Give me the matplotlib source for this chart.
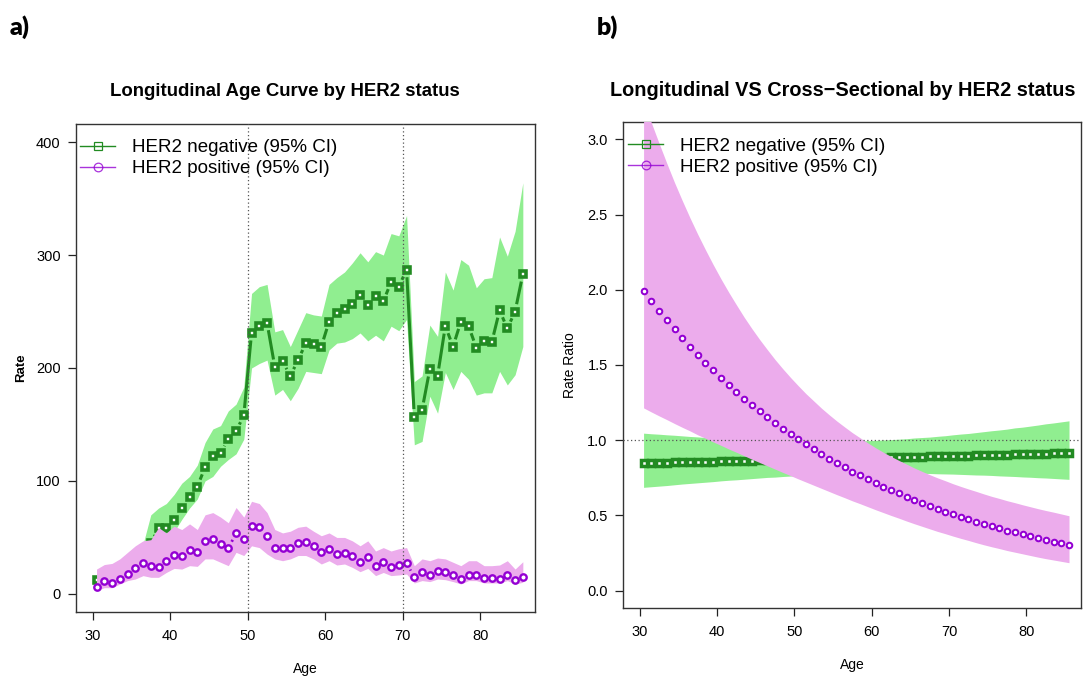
import numpy as np
import matplotlib
matplotlib.use("Agg")
import matplotlib.pyplot as plt
from matplotlib.lines import Line2D
from matplotlib.collections import LineCollection

plt.rcParams['font.family'] = ['Liberation Sans', 'DejaVu Sans']

# ---------------- data ----------------
ages = [30.5, 31.5, 32.5, 33.5, 34.5, 35.5, 36.5, 37.5, 38.5, 39.5,
        40.5, 41.5, 42.5, 43.5, 44.5, 45.5, 46.5, 47.5, 48.5, 49.5,
        50.5, 51.5, 52.5, 53.5, 54.5, 55.5, 56.5, 57.5, 58.5, 59.5,
        60.5, 61.5, 62.5, 63.5, 64.5, 65.5, 66.5, 67.5, 68.5, 69.5,
        70.5, 71.5, 72.5, 73.5, 74.5, 75.5, 76.5, 77.5, 78.5, 79.5,
        80.5, 81.5, 82.5, 83.5, 84.5, 85.5]
nan = float('nan')

# panel a: rates
neg_rate = [12, nan, nan, nan, nan, nan, nan, 45, 58, 58,
            65, 76, 86, 95, 112, 122, 125, 137, 144, 158,
            231, 237, 240, 201, 206, 193, 207, 222, 221, 219,
            241, 249, 252, 257, 265, 256, 264, 259, 276, 272,
            287, 157, 163, 199, 193, 237, 219, 241, 237, 218,
            224, 223, 251, 235, 250, 283]
neg_upper = [18, 20, 24, 28, 33, 38, 44, 70, 76, 80,
             88, 98, 104, 114, 134, 146, 149, 162, 168, 183,
             266, 272, 274, 232, 234, 219, 234, 249, 247, 246,
             274, 280, 285, 293, 302, 294, 303, 300, 319, 317,
             335, 188, 193, 238, 228, 285, 269, 296, 291, 271,
             279, 280, 316, 299, 321, 364]
neg_lower = [5, 7, 9, 12, 15, 18, 22, 32, 41, 48,
             55, 66, 76, 84, 100, 104, 113, 119, 124, 137,
             200, 204, 207, 176, 181, 171, 182, 197, 196, 195,
             216, 222, 223, 226, 231, 224, 229, 224, 237, 233,
             243, 132, 135, 175, 160, 196, 181, 197, 190, 176,
             178, 178, 197, 185, 194, 219]
pos_rate = [6.5, 11.8, 9.7, 13.2, 17.4, 22.6, 27.0, 25.0, 23.5, 29.4,
            34.4, 33.2, 38.8, 37.4, 46.5, 49.0, 43.8, 40.3, 53.8, 48.5,
            59.7, 59.0, 51.5, 40.9, 40.3, 40.9, 44.7, 46.2, 42.6, 36.8,
            39.7, 35.3, 36.2, 33.5, 28.2, 32.9, 24.7, 28.0, 24.1, 25.6,
            27.4, 14.7, 19.1, 17.0, 20.0, 19.1, 17.0, 13.2, 17.0, 17.0,
            14.1, 14.1, 13.2, 16.8, 12.4, 14.7]
pos_upper = [22, 26, 27, 31, 36.8, 42.6, 47, 48, 58.8, 54,
             60, 57, 62, 57, 70, 72, 68, 63, 76.5, 68,
             82, 80, 72, 57, 54, 55.5, 59, 60, 55.5, 51.5,
             54, 50, 50, 47, 42.6, 47, 38, 41, 38, 40,
             41, 25, 31, 29.4, 31.8, 31, 28, 25, 29.4, 29.4,
             25, 25, 25.6, 29.4, 22, 28.5]
pos_lower = [3, 5.5, 5.5, 8.8, 11.8, 13.2, 16.2, 14.7, 14.7, 19,
             22.6, 22, 25, 24.4, 31, 31, 28, 25, 36.8, 34,
             42.6, 41, 35.3, 31, 29.4, 31, 34, 34, 31, 26.5,
             29.4, 25.6, 26.5, 23.5, 19.7, 22.6, 16.2, 19, 16.2, 16.8,
             17.6, 9.7, 11.8, 10.9, 13.2, 12.6, 10.9, 8.8, 11.8, 11.8,
             9.7, 9.7, 9.7, 11.8, 8.8, 10.3]

# panel b: rate ratios
neg_rr = [0.848, 0.849, 0.850, 0.851, 0.853, 0.854, 0.855, 0.856, 0.857, 0.858,
          0.860, 0.861, 0.862, 0.863, 0.864, 0.866, 0.867, 0.868, 0.869, 0.870,
          0.872, 0.873, 0.874, 0.875, 0.876, 0.877, 0.879, 0.880, 0.881, 0.882,
          0.883, 0.885, 0.886, 0.887, 0.888, 0.890, 0.891, 0.892, 0.893, 0.894,
          0.896, 0.897, 0.898, 0.899, 0.901, 0.902, 0.903, 0.904, 0.906, 0.907,
          0.908, 0.909, 0.911, 0.912, 0.913, 0.914]
neg_rr_upper = [1.047, 1.043, 1.040, 1.036, 1.033, 1.029, 1.025, 1.022, 1.018, 1.015,
                1.013, 1.010, 1.008, 1.005, 1.002, 1.001, 0.999, 0.997, 0.995, 0.994,
                0.994, 0.993, 0.992, 0.991, 0.992, 0.992, 0.993, 0.994, 0.996, 0.997,
                0.999, 1.002, 1.004, 1.007, 1.010, 1.015, 1.018, 1.021, 1.026, 1.030,
                1.036, 1.041, 1.045, 1.051, 1.057, 1.063, 1.068, 1.074, 1.082, 1.087,
                1.094, 1.101, 1.109, 1.115, 1.122, 1.129]
neg_rr_lower = [0.687, 0.691, 0.695, 0.699, 0.704, 0.709, 0.713, 0.717, 0.721, 0.725,
                0.730, 0.734, 0.737, 0.741, 0.745, 0.749, 0.753, 0.755, 0.759, 0.762,
                0.765, 0.768, 0.770, 0.772, 0.774, 0.775, 0.778, 0.779, 0.780, 0.781,
                0.781, 0.782, 0.782, 0.781, 0.781, 0.781, 0.780, 0.779, 0.777, 0.776,
                0.775, 0.773, 0.771, 0.769, 0.768, 0.766, 0.763, 0.761, 0.759, 0.756,
                0.754, 0.751, 0.749, 0.746, 0.743, 0.740]
pos_rr = [1.990, 1.923, 1.859, 1.797, 1.736, 1.678, 1.622, 1.567, 1.515, 1.464,
          1.415, 1.367, 1.322, 1.277, 1.234, 1.193, 1.153, 1.114, 1.077, 1.041,
          1.006, 0.972, 0.940, 0.908, 0.878, 0.848, 0.820, 0.792, 0.766, 0.740,
          0.715, 0.691, 0.668, 0.646, 0.624, 0.603, 0.583, 0.563, 0.544, 0.526,
          0.508, 0.491, 0.475, 0.459, 0.443, 0.428, 0.414, 0.400, 0.387, 0.374,
          0.361, 0.349, 0.337, 0.326, 0.315, 0.304]
pos_rr_upper = [3.260, 3.111, 2.974, 2.841, 2.713, 2.593, 2.478, 2.369, 2.266, 2.167,
                2.073, 1.984, 1.900, 1.818, 1.742, 1.670, 1.602, 1.536, 1.475, 1.417,
                1.362, 1.309, 1.261, 1.213, 1.169, 1.127, 1.088, 1.050, 1.016, 0.982,
                0.950, 0.920, 0.892, 0.866, 0.841, 0.816, 0.793, 0.771, 0.750, 0.731,
                0.711, 0.693, 0.676, 0.660, 0.643, 0.627, 0.613, 0.598, 0.585, 0.571,
                0.558, 0.545, 0.533, 0.522, 0.510, 0.498]
pos_rr_lower = [1.215, 1.188, 1.162, 1.137, 1.111, 1.086, 1.062, 1.036, 1.013, 0.989,
                0.966, 0.942, 0.920, 0.897, 0.874, 0.852, 0.830, 0.808, 0.786, 0.765,
                0.743, 0.722, 0.701, 0.680, 0.659, 0.638, 0.618, 0.597, 0.578, 0.558,
                0.538, 0.519, 0.500, 0.482, 0.463, 0.445, 0.428, 0.411, 0.394, 0.379,
                0.363, 0.348, 0.334, 0.319, 0.305, 0.292, 0.280, 0.267, 0.256, 0.245,
                0.234, 0.223, 0.213, 0.204, 0.195, 0.186]

x_ticks = [30, 40, 50, 60, 70, 80]
rate_ticks = [0, 100, 200, 300, 400]
rr_ticks = [0.0, 0.5, 1.0, 1.5, 2.0, 2.5, 3.0]
cut_ages = [50, 70]
legend_labels = ["HER2 negative (95% CI)", "HER2 positive (95% CI)"]

GREEN = '#228B22'
GREEN_FILL = '#90EE90'
PURPLE = '#9400D3'
PINK_FILL = '#ECACEC'

# ---------------- figure ----------------
fig = plt.figure(figsize=(10.92, 6.78), dpi=100)
W, H = 1092, 678


def axes_px(l, t, r, b):
    return fig.add_axes([l / W, 1 - b / H, (r - l) / W, (b - t) / H])


axA = axes_px(76, 124, 535, 612)
axB = axes_px(623, 122, 1081, 608)

axA.set_xlim(27.85, 87.07)
axA.set_ylim(-16, 416)
axB.set_xlim(27.84, 87.05)
axB.set_ylim(-0.115, 3.115)


def type_b_lines(ax, x, y, color, lw, gap=7.5, z=3):
    pts = ax.transData.transform(np.column_stack([x, y]))
    inv = ax.transData.inverted()
    segs = []
    for i in range(len(x) - 1):
        p, q = pts[i], pts[i + 1]
        if np.any(np.isnan(p)) or np.any(np.isnan(q)):
            continue
        d = q - p
        L = np.hypot(*d)
        if L > 2 * gap:
            a = p + d * gap / L
            b = q - d * gap / L
            segs.append(inv.transform(np.vstack([a, b])))
    ax.add_collection(LineCollection(segs, colors=color, linewidths=lw,
                                     zorder=z, capstyle='butt'))


def style_axes(ax, yticks, yfmt):
    ax.set_xticks(x_ticks)
    ax.set_yticks(yticks)
    ax.set_yticklabels([yfmt(v) for v in yticks])
    ax.tick_params(direction='out', length=6, width=0.9, labelsize=10.5,
                   colors='#222222', labelcolor='black')
    ax.tick_params(axis='x', pad=6.5)
    ax.tick_params(axis='y', pad=5)
    for s in ax.spines.values():
        s.set_linewidth(1.0)
        s.set_color('#333333')
    ax.set_xlabel('Age', fontsize=10)


# ---- panel a ----
axA.fill_between(ages, neg_lower, neg_upper, color=GREEN_FILL, lw=0, zorder=1)
type_b_lines(axA, ages, neg_rate, GREEN, 2.2, z=2)
axA.plot(ages, neg_rate, ls='none', marker='s', ms=3.9, mew=2.6,
         mfc='white', mec=GREEN, zorder=2.5)
axA.fill_between(ages, pos_lower, pos_upper, color=PINK_FILL, lw=0, zorder=3)
type_b_lines(axA, ages, pos_rate, PURPLE, 2.0, z=3.5)
axA.plot(ages, pos_rate, ls='none', marker='o', ms=4.6, mew=1.7,
         mfc='white', mec=PURPLE, zorder=4)
for c in cut_ages:
    axA.axvline(c, color='#555555', ls=(0, (1, 2)), lw=0.9, zorder=5)
style_axes(axA, rate_ticks, lambda v: f"{v:d}")
axA.xaxis.set_label_coords(0.5, -0.102)
axA.set_ylabel('Rate', fontsize=9.5, fontweight='bold')
axA.yaxis.set_label_coords(-0.107, 0.5)

# ---- panel b ----
axB.fill_between(ages, neg_rr_lower, neg_rr_upper, color=GREEN_FILL, lw=0, zorder=1)
type_b_lines(axB, ages, neg_rr, GREEN, 2.0, z=2)
axB.plot(ages, neg_rr, ls='none', marker='s', ms=3.7, mew=2.5,
         mfc='white', mec=GREEN, zorder=2.5)
axB.fill_between(ages, pos_rr_lower, pos_rr_upper, color=PINK_FILL, lw=0, zorder=3)
type_b_lines(axB, ages, pos_rr, PURPLE, 2.0, z=3.5)
axB.plot(ages, pos_rr, ls='none', marker='o', ms=4.0, mew=1.45,
         mfc='white', mec=PURPLE, zorder=4)
axB.axhline(1.0, color='#555555', ls=(0, (1, 2)), lw=0.9, zorder=5)
style_axes(axB, rr_ticks, lambda v: f"{v:.1f}")
axB.xaxis.set_label_coords(0.5, -0.103)
axB.set_ylabel('Rate Ratio', fontsize=10)
axB.yaxis.set_label_coords(-0.100, 0.5)

# ---- legends ----
handles = [
    Line2D([], [], color=GREEN, lw=1.0, marker='s', ms=5.3, mfc='none',
           mec=GREEN, mew=0.9),
    Line2D([], [], color=PURPLE, lw=1.0, marker='o', ms=6.2, mfc='none',
           mec=PURPLE, mew=0.9, alpha=0.8),
]
for ax, x0, y0 in [(axA, 0.0087, 0.969), (axB, 0.011, 0.968)]:
    ax.legend(handles, legend_labels, loc='upper left', bbox_to_anchor=(x0, y0),
              frameon=False, fontsize=13.5, handlelength=1.87,
              handletextpad=0.9, borderpad=0, borderaxespad=0,
              labelspacing=0.2)

# ---- titles & panel letters ----
fig.text(285 / W, 1 - 91 / H, 'Longitudinal Age Curve by HER2 status',
         ha='center', va='center', fontsize=13.4, fontweight='bold')
fig.text(842.5 / W, 1 - 90 / H, 'Longitudinal VS Cross\u2212Sectional by HER2 status',
         ha='center', va='center', fontsize=14.3, fontweight='bold')
fig.text(10 / W, 1 - 27 / H, 'a)', ha='left', va='center', fontsize=18,
         fontweight='heavy', family=['Lato', 'DejaVu Sans'])
fig.text(597 / W, 1 - 27 / H, 'b)', ha='left', va='center', fontsize=18,
         fontweight='heavy', family=['Lato', 'DejaVu Sans'])

fig.savefig('out.png', dpi=100)
